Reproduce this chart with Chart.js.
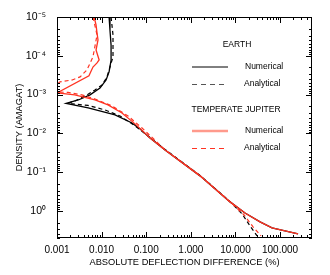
<!DOCTYPE html>
<html>
<head>
<meta charset="utf-8">
<script src="https://cdn.jsdelivr.net/npm/chart.js@4.4.1/dist/chart.umd.min.js"></script>
<style>
  html, body { margin: 0; padding: 0; background: #fff; }
  #wrap { width: 330px; height: 275px; }
</style>
</head>
<body>
<div id="wrap"><canvas id="deflectionChart"></canvas></div>
<script>
// x = absolute deflection difference (%), y = density (amagat)
const earthNumX = [0.0147, 0.0154, 0.0163, 0.0163, 0.0147, 0.0126, 0.0092, 0.0055, 0.0030, 0.0016, 0.0050, 0.020, 0.048, 0.073, 0.122, 0.264, 1.61, 7.57, 16.4, 35.6, 66, 129, 253];
const earthNumY = [1e-5, 2.2e-5, 5.3e-5, 1.3e-4, 2.6e-4, 4.2e-4, 6.8e-4, 1.02e-3, 1.38e-3, 1.69e-3, 2.21e-3, 3.36e-3, 5.4e-3, 7.7e-3, 0.0131, 0.0268, 0.125, 0.586, 1.13, 1.92, 2.74, 3.27, 3.92];

const earthAnaX = [0.0163, 0.018, 0.018, 0.0154, 0.0132, 0.0102, 0.0071, 0.0047, 0.0028, 0.00177, 0.00495, 0.0119, 0.0259, 0.0561, 0.122, 0.264, 1.61, 7.57, 14.1, 21.2, 30.5];
const earthAnaY = [1e-5, 2.9e-5, 1.07e-4, 1.95e-4, 3.5e-4, 5.7e-4, 7.6e-4, 1.02e-3, 1.38e-3, 1.69e-3, 1.91e-3, 2.49e-3, 3.56e-3, 6.4e-3, 0.0128, 0.026, 0.122, 0.575, 1.19, 2.44, 4.41];

const jupNumX = [0.0068, 0.0075, 0.0079, 0.0083, 0.0075, 0.0088, 0.0079, 0.0064, 0.0052, 0.0010, 0.0025, 0.0071, 0.0139, 0.0286, 0.0561, 0.122, 0.264, 1.61, 7.57, 16.4, 35.6, 66, 129, 253];
const jupNumY = [1e-5, 1.6e-5, 2.6e-5, 3.9e-5, 7.1e-5, 1.28e-4, 1.53e-4, 1.95e-4, 3.3e-4, 9.1e-4, 1.02e-3, 1.38e-3, 1.85e-3, 2.98e-3, 5.7e-3, 0.0131, 0.0268, 0.125, 0.586, 1.13, 1.92, 2.74, 3.27, 3.92];

const jupAnaX = [0.0064, 0.0079, 0.0064, 0.0047, 0.0033, 0.0022, 0.00117, 0.00077, 0.0010, 0.00177, 0.0036, 0.0071, 0.0171, 0.0391, 0.0805, 0.264, 1.61, 7.57, 15.6, 24.8, 37.5];
const jupAnaY = [1e-5, 2.9e-5, 1.07e-4, 2.3e-4, 3.5e-4, 4.2e-4, 4.7e-4, 6.8e-4, 8.6e-4, 8.8e-4, 1.02e-3, 1.30e-3, 1.97e-3, 3.56e-3, 7.3e-3, 0.0265, 0.124, 0.58, 1.27, 2.58, 4.41];

const xMajor = [0.001, 0.01, 0.1, 1, 10, 100];
const xTickLabels = ["0.001", "0.010", "0.100", "1.000", "10.000", "100.000"];
const yMajor = [1e-5, 1e-4, 1e-3, 1e-2, 1e-1, 1];
const yTickLabels = ["10⁻⁵", "10⁻⁴", "10⁻³", "10⁻²", "10⁻¹", "10⁰"];

const RED = "#ff3322";
const FONT = "'Liberation Sans', Arial, sans-serif";

function toPoints(xs, ys) {
  return xs.map((x, i) => ({ x: x, y: ys[i] }));
}

// all 1..9 x 10^n ticks, so minor marks can be drawn too
function logTicks(min, max) {
  const ticks = [];
  for (let e = Math.floor(Math.log10(min)); e <= Math.ceil(Math.log10(max)); e++) {
    for (let m = 1; m < 10; m++) {
      const v = m * Math.pow(10, e);
      if (v >= min * 0.999 && v <= max * 1.001) ticks.push({ value: v, major: m === 1 });
    }
  }
  return ticks;
}

function majorLabel(value, majors, labels) {
  for (let i = 0; i < majors.length; i++) {
    if (Math.abs(Math.log10(value) - Math.log10(majors[i])) < 1e-6) return labels[i];
  }
  return "";
}

// IDL style box with inward ticks on all four sides
const idlAxes = {
  id: "idlAxes",
  afterDatasetsDraw(chart) {
    const { ctx, chartArea: a, scales } = chart;
    ctx.save();
    ctx.strokeStyle = "#000";
    ctx.lineWidth = 1;
    ctx.strokeRect(a.left + 0.5, a.top + 0.5, a.right - a.left - 1, a.bottom - a.top - 1);

    ctx.beginPath();
    scales.x.ticks.forEach(t => {
      const px = Math.round(scales.x.getPixelForValue(t.value)) + 0.5;
      const len = t.major ? 6 : 3;
      ctx.moveTo(px, a.bottom);
      ctx.lineTo(px, a.bottom - len);
      ctx.moveTo(px, a.top);
      ctx.lineTo(px, a.top + len);
    });
    scales.y.ticks.forEach(t => {
      const py = Math.round(scales.y.getPixelForValue(t.value)) + 0.5;
      const len = t.major ? 6 : 3;
      ctx.moveTo(a.left, py);
      ctx.lineTo(a.left + len, py);
      ctx.moveTo(a.right, py);
      ctx.lineTo(a.right - len, py);
    });
    ctx.stroke();
    ctx.restore();
  }
};

// grouped legend drawn inside the plot
const groupLegend = {
  id: "groupLegend",
  afterDraw(chart) {
    const ctx = chart.ctx;
    ctx.save();
    ctx.font = "8.5px " + FONT;
    ctx.fillStyle = "#000";
    ctx.textBaseline = "middle";

    ctx.textAlign = "center";
    ctx.fillText("EARTH", 237, 45);
    ctx.fillText("TEMPERATE JUPITER", 236, 110);

    ctx.textAlign = "left";
    ctx.fillText("Numerical", 245, 67);
    ctx.fillText("Analytical", 244, 84);
    ctx.fillText("Numerical", 245, 131);
    ctx.fillText("Analytical", 244, 148);

    function sample(y, color, width, dash) {
      ctx.beginPath();
      ctx.strokeStyle = color;
      ctx.lineWidth = width;
      ctx.setLineDash(dash);
      ctx.moveTo(192, y);
      ctx.lineTo(228, y);
      ctx.stroke();
    }
    sample(67, "#000", 1, []);
    sample(84.5, "#555", 1, [5, 4]);
    sample(131, "#ff9a8c", 2.5, []);
    sample(148.5, RED, 1, [5, 4]);
    ctx.restore();
  }
};

const ctx = document.getElementById("deflectionChart");

new Chart(ctx, {
  type: "scatter",
  data: {
    datasets: [
      {
        label: "Temperate Jupiter Numerical",
        data: toPoints(jupNumX, jupNumY),
        borderColor: RED,
        borderWidth: 1.3
      },
      {
        label: "Temperate Jupiter Analytical",
        data: toPoints(jupAnaX, jupAnaY),
        borderColor: RED,
        borderWidth: 1.2,
        borderDash: [4, 3]
      },
      {
        label: "Earth Numerical",
        data: toPoints(earthNumX, earthNumY),
        borderColor: "#000",
        borderWidth: 1.3
      },
      {
        label: "Earth Analytical",
        data: toPoints(earthAnaX, earthAnaY),
        borderColor: "#000",
        borderWidth: 1.2,
        borderDash: [4, 3]
      }
    ]
  },
  options: {
    responsive: true,
    maintainAspectRatio: false,
    animation: false,
    showLine: true,
    elements: {
      point: { radius: 0, hoverRadius: 0 },
      line: { tension: 0, fill: false }
    },
    layout: {
      padding: { top: 17, right: 18, left: 0, bottom: 0 }
    },
    plugins: {
      legend: { display: false },
      tooltip: { enabled: false }
    },
    scales: {
      x: {
        type: "logarithmic",
        min: 0.001,
        max: 520,
        afterBuildTicks: scale => { scale.ticks = logTicks(0.001, 520); },
        afterFit: scale => { scale.height = 37; },
        grid: { display: false },
        border: { display: false },
        ticks: {
          autoSkip: false,
          maxRotation: 0,
          padding: -2,
          color: "#000",
          font: { family: FONT, size: 10 },
          callback: value => majorLabel(value, xMajor, xTickLabels)
        },
        title: {
          display: true,
          text: "ABSOLUTE DEFLECTION DIFFERENCE (%)",
          color: "#000",
          font: { family: FONT, size: 9.3 },
          padding: { top: 0, bottom: 7 }
        }
      },
      y: {
        type: "logarithmic",
        reverse: true,
        min: 1e-5,
        max: 5,
        afterBuildTicks: scale => { scale.ticks = logTicks(1e-5, 5); },
        afterFit: scale => { scale.width = 57; },
        grid: { display: false },
        border: { display: false },
        ticks: {
          autoSkip: false,
          padding: 3,
          color: "#000",
          font: { family: FONT, size: 10.5 },
          callback: value => majorLabel(value, yMajor, yTickLabels)
        },
        title: {
          display: true,
          text: "DENSITY (AMAGAT)",
          color: "#000",
          font: { family: FONT, size: 9.3 },
          padding: { top: 14, bottom: 0 }
        }
      }
    }
  },
  plugins: [idlAxes, groupLegend]
});
</script>
</body>
</html>
